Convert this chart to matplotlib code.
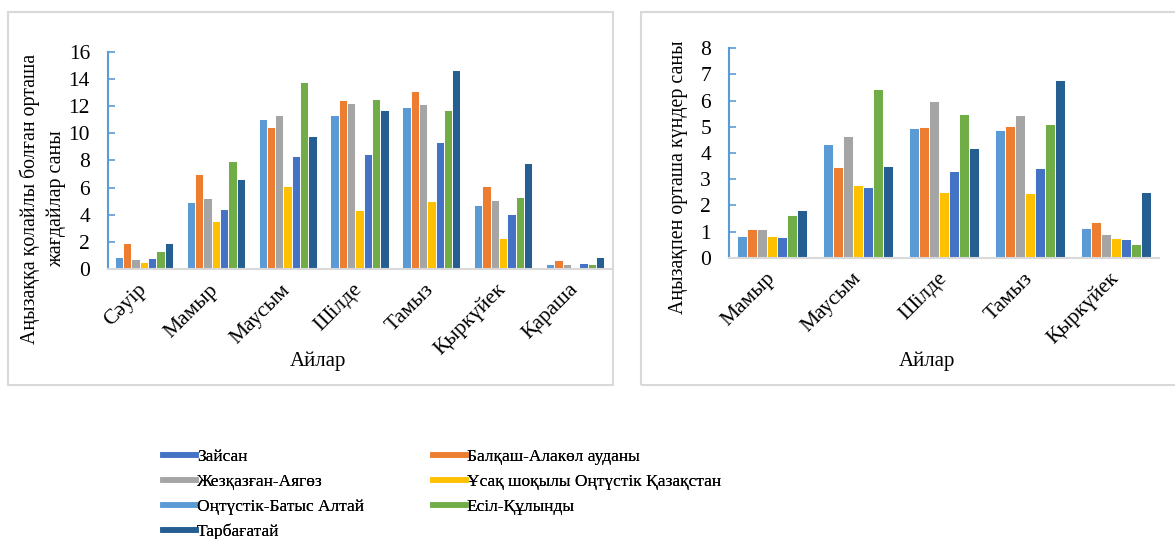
import matplotlib
matplotlib.use("Agg")
import matplotlib.pyplot as plt
from matplotlib.lines import Line2D
from matplotlib.patches import Rectangle
import numpy as np

plt.rcParams['font.family'] = ['Liberation Serif', 'DejaVu Serif']

# series, in the order the bars are drawn inside each group
series = ['Оңтүстік-Батыс Алтай', 'Балқаш-Алакөл ауданы', 'Жезқазған-Аягөз',
          'Ұсақ шоқылы Оңтүстік Қазақстан', 'Зайсан', 'Есіл-Құлынды', 'Тарбағатай']
colors = ['#5B9BD5', '#ED7D31', '#A5A5A5', '#FFC000', '#4472C4', '#70AD47', '#255E91']

# left chart: average number of favourable situations
months_left = ['Сәуір', 'Мамыр', 'Маусым', 'Шілде', 'Тамыз', 'Қыркүйек', 'Қараша']
sw_altai_l = [0.91, 4.96, 11.04, 11.34, 11.90, 4.71, 0.37]
balkhash_l = [1.94, 7.02, 10.45, 12.44, 13.10, 6.09, 0.69]
zhezkazgan_l = [0.71, 5.23, 11.31, 12.20, 12.12, 5.06, 0.37]
small_hills_l = [0.49, 3.53, 6.13, 4.32, 5.03, 2.26, 0.12]
zaisan_l = [0.81, 4.42, 8.34, 8.47, 9.33, 4.05, 0.42]
esil_l = [1.35, 7.98, 13.74, 12.52, 11.68, 5.28, 0.37]
tarbagatai_l = [1.91, 6.60, 9.79, 11.68, 14.67, 7.78, 0.88]

# right chart: average number of dry-wind days
months_right = ['Мамыр', 'Маусым', 'Шілде', 'Тамыз', 'Қыркүйек']
sw_altai_r = [0.83, 4.36, 4.94, 4.87, 1.12]
balkhash_r = [1.11, 3.46, 4.98, 5.03, 1.38]
zhezkazgan_r = [1.10, 4.65, 6.00, 5.45, 0.92]
small_hills_r = [0.83, 2.78, 2.50, 2.46, 0.76]
zaisan_r = [0.80, 2.69, 3.30, 3.41, 0.71]
esil_r = [1.64, 6.43, 5.48, 5.10, 0.54]
tarbagatai_r = [1.82, 3.50, 4.18, 6.78, 2.51]

left_values = [sw_altai_l, balkhash_l, zhezkazgan_l, small_hills_l, zaisan_l, esil_l, tarbagatai_l]
right_values = [sw_altai_r, balkhash_r, zhezkazgan_r, small_hills_r, zaisan_r, esil_r, tarbagatai_r]

W, H = 1175, 539
fig = plt.figure(figsize=(W / 100, H / 100), dpi=100)

# chart frames
for x0, x1 in [(8, 613), (641, 1180)]:
    fig.patches.append(Rectangle((x0 / W, 1 - 385 / H), (x1 - x0) / W, (385 - 12) / H,
                                 transform=fig.transFigure, fill=False,
                                 edgecolor='#D9D9D9', linewidth=1.5))


def bar_chart(ax, months, values, ymax, ypad):
    n = len(values)
    group = 0.81
    width = group / n
    x = np.arange(len(months))
    for i, (vals, c) in enumerate(zip(values, colors)):
        ax.bar(x - group / 2 + width * (i + 0.5), vals, width, color=c,
               edgecolor='white', linewidth=0.7)
    ax.set_xlim(-0.5, len(months) - 0.5)
    ax.set_ylim(0, ymax)
    ax.set_xticks(x)
    ax.set_xticklabels(months, rotation=45, ha='right', va='center',
                       rotation_mode='anchor', fontsize=15.5)
    ax.tick_params(axis='x', length=0, pad=13)
    ax.tick_params(axis='y', direction='in', length=5, width=1.2,
                   color='#5B9BD5', labelsize=15.5, pad=ypad)
    for s in ['top', 'right']:
        ax.spines[s].set_visible(False)
    ax.spines['left'].set_color('#5B9BD5')
    ax.spines['left'].set_linewidth(1.5)
    ax.spines['bottom'].set_color('#D9D9D9')
    ax.spines['bottom'].set_linewidth(1.5)


ax1 = fig.add_axes([108 / W, 1 - 269 / H, (611 - 108) / W, (269 - 51.7) / H])
bar_chart(ax1, months_left, left_values, 16, 13)
ax1.set_yticks(np.arange(0, 17, 2))

ax2 = fig.add_axes([729 / W, 1 - 257.7 / H, (1159 - 729) / W, (257.7 - 48.3) / H])
bar_chart(ax2, months_right, right_values, 8, 13)
ax2.set_yticks(np.arange(0, 9, 1))

fig.text(43 / W, 1 - 199 / H, 'Аңызаққа қолайлы болған орташа\nжағдайлар саны',
         rotation=90, ha='center', va='center', multialignment='center',
         fontsize=14.3, linespacing=1.45)
fig.text(678 / W, 1 - 177 / H, 'Аңызақпен орташа күндер саны',
         rotation=90, ha='center', va='center', fontsize=14.3)
fig.text(318 / W, 1 - 361 / H, 'Айлар', ha='center', va='center', fontsize=15)
fig.text(927 / W, 1 - 361 / H, 'Айлар', ha='center', va='center', fontsize=15)

# legend laid out in two columns
def handle(c):
    return Line2D([], [], color=c, linewidth=4)

col1 = [4, 2, 0, 6]
col2 = [1, 3, 5]
for xpos, idx in [(163, col1), (433, col2)]:
    leg = fig.legend([handle(colors[i]) for i in idx], [series[i] for i in idx],
                     loc='upper left', bbox_to_anchor=(xpos / W, 1 - 449 / H),
                     bbox_transform=fig.transFigure, frameon=False,
                     borderpad=0, borderaxespad=0, handlelength=1.9,
                     handletextpad=0.05, labelspacing=0.5, fontsize=12.5)
    fig.add_artist(leg)

fig.savefig('out.png', dpi=100)
